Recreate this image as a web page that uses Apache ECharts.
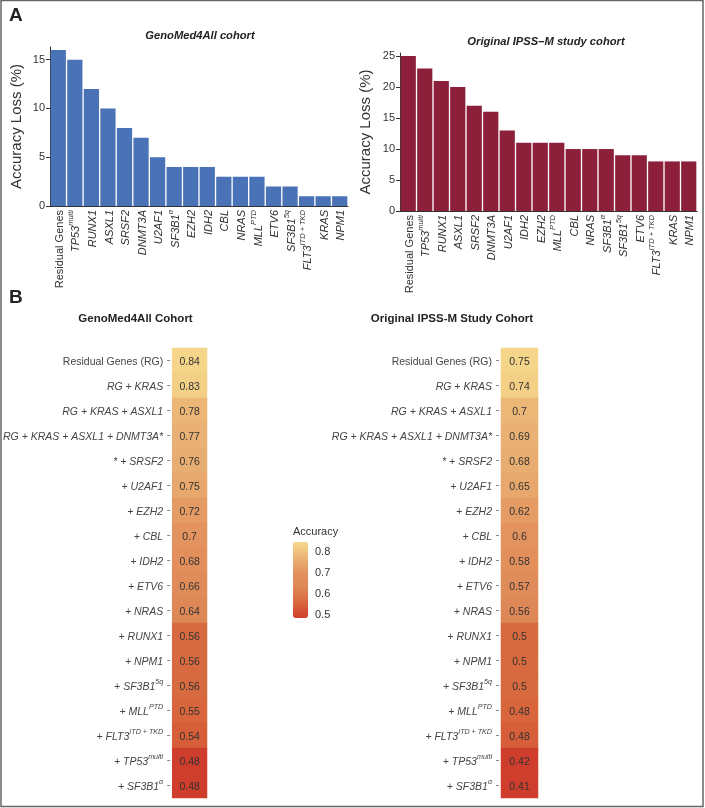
<!DOCTYPE html>
<html><head><meta charset="utf-8">
<script src="https://cdn.jsdelivr.net/npm/echarts@6/dist/echarts.min.js"></script>
<style>html,body{margin:0;padding:0;background:#fff}#c{width:705px;height:808px}</style>
</head><body><div id="c"></div>
<script>
// ---- Data ----
const barCatsGeno = ['Residual Genes','TP53^multi','RUNX1','ASXL1','SRSF2','DNMT3A','U2AF1','SF3B1^α','EZH2','IDH2','CBL','NRAS','MLL^PTD','ETV6','SF3B1^5q','FLT3^ITD + TKD','KRAS','NPM1'];
const barValsGeno = [16,15,12,10,8,7,5,4,4,4,3,3,3,2,2,1,1,1];
const barCatsIpss = ['Residual Genes','TP53^multi','RUNX1','ASXL1','SRSF2','DNMT3A','U2AF1','IDH2','EZH2','MLL^PTD','CBL','NRAS','SF3B1^α','SF3B1^5q','ETV6','FLT3^ITD + TKD','KRAS','NPM1'];
const barValsIpss = [25,23,21,20,17,16,13,11,11,11,10,10,10,9,9,8,8,8];
const heatRows = ['Residual Genes (RG)','RG + KRAS','RG + KRAS + ASXL1','RG + KRAS + ASXL1 + DNMT3A*','* + SRSF2','+ U2AF1','+ EZH2','+ CBL','+ IDH2','+ ETV6','+ NRAS','+ RUNX1','+ NPM1','+ SF3B1^5q','+ MLL^PTD','+ FLT3^ITD + TKD','+ TP53^multi','+ SF3B1^α'];
const accGeno = [0.84,0.83,0.78,0.77,0.76,0.75,0.72,0.7,0.68,0.66,0.64,0.56,0.56,0.56,0.55,0.54,0.48,0.48];
const accIpss = [0.75,0.74,0.7,0.69,0.68,0.65,0.62,0.6,0.58,0.57,0.56,0.5,0.5,0.5,0.48,0.48,0.42,0.41];
const yTicksGeno = [0,5,10,15];
const yTicksIpss = [0,5,10,15,20,25];
const legendTicks = [0.5,0.6,0.7,0.8];

const FONT = "'Liberation Sans', Arial, sans-serif";
function fmtLabel(lab) {
  if (lab.indexOf('Residual') === 0) return '{n|' + lab + '}';
  const parts = lab.split('^');
  return '{i|' + parts[0] + '}' + (parts[1] ? '{s|' + parts[1] + '}' : '');
}
function richFor(color, fs) {
  return {
    n: {fontSize: fs, color: color, fontFamily: FONT, lineHeight: 14, verticalAlign: 'bottom'},
    i: {fontSize: fs, color: color, fontFamily: FONT, fontStyle: 'italic', lineHeight: 14, verticalAlign: 'bottom'},
    s: {fontSize: fs * 0.68, color: color, fontFamily: FONT, fontStyle: 'italic', lineHeight: 9, verticalAlign: 'top'}
  };
}

function barX(grid, cats) {
  return {
    type: 'category', gridIndex: grid, data: cats,
    axisLine: {lineStyle: {color: '#333', width: 1}},
    axisTick: {show: false},
    axisLabel: {rotate: 90, interval: 0, margin: 4, formatter: fmtLabel, rich: richFor('#333', 11)}
  };
}
function barY(grid, max, ticks) {
  return {
    type: 'value', gridIndex: grid, min: 0, max: max,
    name: 'Accuracy Loss (%)', nameLocation: 'middle', nameGap: 26,
    nameTextStyle: {fontSize: 15, color: '#333', fontFamily: FONT},
    axisLine: {show: true, lineStyle: {color: '#333'}},
    axisTick: {show: true, length: 4, lineStyle: {color: '#333'}, customValues: ticks},
    axisLabel: {fontSize: 11, color: '#333', fontFamily: FONT, margin: 5, customValues: ticks},
    splitLine: {show: false}
  };
}
function heatY(grid) {
  return {
    type: 'category', gridIndex: grid, data: heatRows, inverse: true, offset: 2,
    axisLine: {show: false},
    axisTick: {show: true, alignWithLabel: true, length: 3, lineStyle: {color: '#888'}},
    axisLabel: {fontSize: 10.5, margin: 7, formatter: fmtLabel, rich: richFor('#444', 10.5)},
    splitLine: {show: false}
  };
}
function heatX(grid) {
  return {type: 'category', gridIndex: grid, data: [''], show: false};
}
function heatData(vals) {
  return vals.map((v, i) => [0, i, v, accGeno[i]]);
}
const heatLabel = {show: true, fontSize: 10.5, color: '#333', fontFamily: FONT, offset: [0, 1.5],
  formatter: p => String(p.value[2])};

const chart = echarts.init(document.getElementById('c'), null, {renderer: 'canvas'});
chart.setOption({
  backgroundColor: '#fff',
  animation: false,
  textStyle: {fontFamily: FONT},
  grid: [
    {left: 50, top: 47, width: 298, height: 159},
    {left: 400, top: 53, width: 297, height: 158},
    {left: 169, top: 348, width: 38, height: 450},
    {left: 501, top: 348, width: 37, height: 450},
    {left: 293, top: 542, width: 15, height: 76}
  ],
  xAxis: [
    barX(0, barCatsGeno), barX(1, barCatsIpss), heatX(2), heatX(3),
    {type: 'value', gridIndex: 4, show: false, min: 0, max: 1}
  ],
  yAxis: [
    barY(0, 16.3, yTicksGeno),
    Object.assign(barY(1, 25.5, yTicksIpss), {nameGap: 27}),
    heatY(2), heatY(3),
    {type: 'value', gridIndex: 4, position: 'right', min: 0.484, max: 0.848, z: 10,
      axisLine: {show: false},
      axisTick: {show: true, inside: true, length: 3, lineStyle: {color: '#fff', width: 1}, customValues: legendTicks},
      axisLabel: {fontSize: 11, color: '#333', fontFamily: FONT, margin: 7, customValues: legendTicks},
      splitLine: {show: false}}
  ],
  visualMap: {
    type: 'continuous', min: 0.48, max: 0.85, dimension: 3, seriesIndex: [2, 3],
    calculable: false, left: 293, top: 542, itemWidth: 15, itemHeight: 76, padding: 0,
    text: null, showLabel: false,
    inRange: {color: ['#cf3d2c', '#d8673d', '#de8656', '#e3935f', '#eab475', '#f7da8c']}
  },
  series: [
    {type: 'bar', xAxisIndex: 0, yAxisIndex: 0, data: barValsGeno, barCategoryGap: '8%',
      itemStyle: {color: '#4a72b6'}},
    {type: 'bar', xAxisIndex: 1, yAxisIndex: 1, data: barValsIpss, barCategoryGap: '8%',
      itemStyle: {color: '#8c1f3a'}},
    {type: 'heatmap', xAxisIndex: 2, yAxisIndex: 2, data: heatData(accGeno), label: heatLabel},
    {type: 'heatmap', xAxisIndex: 3, yAxisIndex: 3, data: heatData(accIpss), label: heatLabel},
    {type: 'scatter', xAxisIndex: 4, yAxisIndex: 4, data: []}
  ],
  graphic: [
    {type: 'rect', shape: {x: 1, y: 0.5, width: 702, height: 806}, style: {fill: 'none', stroke: '#666', lineWidth: 1.5}, silent: true},
    {type: 'text', x: 9, y: 6, style: {text: 'A', fontSize: 19, fontWeight: 'bold', fill: '#222', fontFamily: FONT}},
    {type: 'text', x: 9, y: 288, style: {text: 'B', fontSize: 19, fontWeight: 'bold', fill: '#222', fontFamily: FONT}},
    {type: 'text', x: 200, y: 36, style: {text: 'GenoMed4All cohort', textAlign: 'center', textVerticalAlign: 'middle', fontSize: 11.2, fontWeight: 'bold', fontStyle: 'italic', fill: '#222', fontFamily: FONT}},
    {type: 'text', x: 546, y: 42, style: {text: 'Original IPSS\u2013M study cohort', textAlign: 'center', textVerticalAlign: 'middle', fontSize: 11.2, fontWeight: 'bold', fontStyle: 'italic', fill: '#222', fontFamily: FONT}},
    {type: 'text', x: 135.5, y: 319, style: {text: 'GenoMed4All Cohort', textAlign: 'center', textVerticalAlign: 'middle', fontSize: 11.5, fontWeight: 'bold', fill: '#222', fontFamily: FONT}},
    {type: 'text', x: 452, y: 319, style: {text: 'Original IPSS-M Study Cohort', textAlign: 'center', textVerticalAlign: 'middle', fontSize: 11.5, fontWeight: 'bold', fill: '#222', fontFamily: FONT}},
    {type: 'text', x: 293, y: 532, style: {text: 'Accuracy', textAlign: 'left', textVerticalAlign: 'middle', fontSize: 11, fill: '#333', fontFamily: FONT}}
  ]
});
</script>
</body></html>
